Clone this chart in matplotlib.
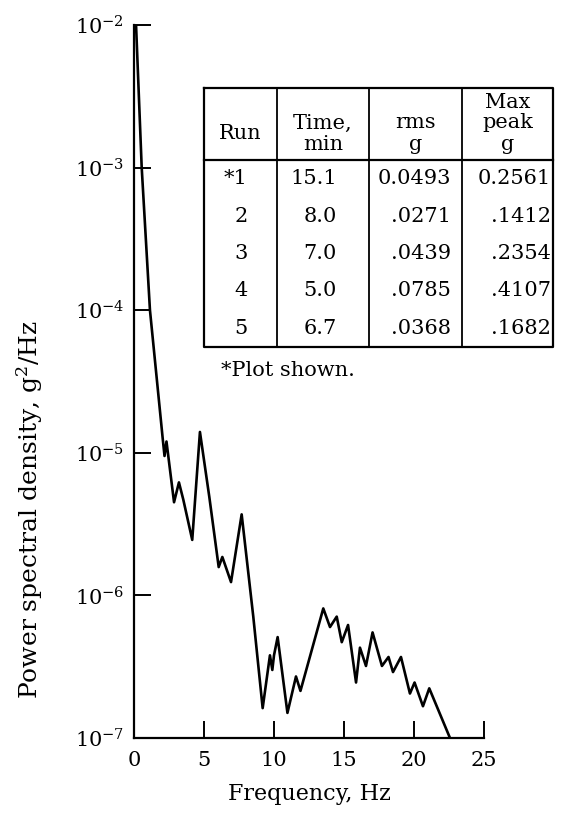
import matplotlib
matplotlib.use("Agg")
import matplotlib.pyplot as plt
from matplotlib.ticker import FixedLocator, NullLocator

# Power spectral density trace, run 1
freq_hz = [0.15, 0.55, 1.14, 2.05, 2.18, 2.32, 2.86, 3.21, 3.52, 4.16, 4.71,
           5.38, 6.05, 6.31, 6.93, 7.69, 8.52, 9.19, 9.71, 9.88, 10.0, 10.26,
           10.96, 11.57, 11.89, 13.52, 14.0, 14.48, 14.84, 15.29, 15.86, 16.14,
           16.57, 17.04, 17.71, 18.18, 18.5, 19.07, 19.71, 20.04, 20.64, 21.09,
           22.57]
psd_g2_hz = [9.8e-3, 1.0e-3, 1.0e-4, 1.26e-5, 9.5e-6, 1.2e-5, 4.5e-6, 6.2e-6,
             4.7e-6, 2.45e-6, 1.4e-5, 4.9e-6, 1.58e-6, 1.86e-6, 1.24e-6, 3.7e-6,
             7.1e-7, 1.62e-7, 3.8e-7, 3.0e-7, 3.8e-7, 5.1e-7, 1.5e-7, 2.7e-7,
             2.14e-7, 8.1e-7, 6.0e-7, 7.1e-7, 4.7e-7, 6.2e-7, 2.45e-7, 4.3e-7,
             3.2e-7, 5.5e-7, 3.2e-7, 3.7e-7, 2.9e-7, 3.7e-7, 2.05e-7, 2.45e-7,
             1.67e-7, 2.23e-7, 1.0e-7]

# Run summary table
headers = ["Run", "Time,\nmin", "rms\ng", "Max\npeak\ng"]
runs = ["*1", "2", "3", "4", "5"]
time_min = ["15.1", "8.0", "7.0", "5.0", "6.7"]
rms_g = ["0.0493", ".0271", ".0439", ".0785", ".0368"]
max_peak_g = ["0.2561", ".1412", ".2354", ".4107", ".1682"]
footnote = "*Plot shown."

x_ticks = [0, 5, 10, 15, 20, 25]
y_ticks = [1e-7, 1e-6, 1e-5, 1e-4, 1e-3, 1e-2]

plt.rcParams["font.family"] = ["DejaVu Serif"]
plt.rcParams["mathtext.fontset"] = "dejavuserif"

W, H = 561, 813
fig = plt.figure(figsize=(W / 100, H / 100), dpi=100)

# main axes, pixel box converted to figure fractions
ax_l, ax_r, ax_t, ax_b = 134, 484, 25, 738
ax = fig.add_axes([ax_l / W, 1 - ax_b / H, (ax_r - ax_l) / W, (ax_b - ax_t) / H])

ax.semilogy(freq_hz, psd_g2_hz, color="black", linewidth=1.9)
ax.set_xlim(0, 25)
ax.set_ylim(1e-7, 1e-2)
ax.xaxis.set_major_locator(FixedLocator(x_ticks))
ax.yaxis.set_major_locator(FixedLocator(y_ticks))
ax.yaxis.set_minor_locator(NullLocator())

for side in ["top", "right"]:
    ax.spines[side].set_visible(False)
for side in ["left", "bottom"]:
    ax.spines[side].set_linewidth(1.6)

ax.tick_params(axis="both", direction="in", length=12, width=1.4,
               labelsize=15, colors="black")
ax.tick_params(axis="x", pad=9)
ax.tick_params(axis="y", pad=7)

ax.set_xlabel("Frequency, Hz", fontsize=16)
ax.xaxis.label.set_va("center")
ax.xaxis.set_label_coords(0.5, -(794 - ax_b) / (ax_b - ax_t))
ax.set_ylabel("Power spectral density, g$^2$/Hz", fontsize=18)
ax.yaxis.label.set_va("center")
ax.yaxis.set_label_coords(-(ax_l - 30) / (ax_r - ax_l), (ax_b - 510) / (ax_b - ax_t))

# table drawn in its own pixel-unit axes
t_l, t_r, t_t, t_b = 204, 553, 88, 347
tax = fig.add_axes([t_l / W, 1 - t_b / H, (t_r - t_l) / W, (t_b - t_t) / H])
tw, th = t_r - t_l, t_b - t_t
tax.set_xlim(0, tw)
tax.set_ylim(th, 0)
tax.axis("off")

col_edges = [0, 73, 165, 258, tw]
header_h = 72
row_h = (th - header_h) / len(runs)
lw = 1.6

tax.plot([0, tw, tw, 0, 0], [0, 0, th, th, 0], color="black", lw=lw, clip_on=False)
tax.plot([0, tw], [header_h, header_h], color="black", lw=lw, clip_on=False)
for xe in col_edges[1:-1]:
    tax.plot([xe, xe], [0, th], color="black", lw=1.3, clip_on=False)

fs = 15
line_gap = 21
last_line_y = 56
for i, head in enumerate(headers):
    cx = (col_edges[i] + col_edges[i + 1]) / 2
    lines = head.split("\n")
    if len(lines) == 1:
        tax.text(cx, last_line_y - line_gap / 2, lines[0], ha="center",
                 va="center", fontsize=fs)
    else:
        for j, txt in enumerate(lines):
            y = last_line_y - (len(lines) - 1 - j) * line_gap
            tax.text(cx, y, txt, ha="center", va="center", fontsize=fs)

# right-aligned anchor of each body column
col_anchor = [44, 133, 247, 347]
columns = [runs, time_min, rms_g, max_peak_g]
for r in range(len(runs)):
    y = header_h + (r + 0.5) * row_h
    for c, values in enumerate(columns):
        tax.text(col_anchor[c], y, values[r], ha="right", va="center", fontsize=fs)

tax.text(17, th + 23, footnote, ha="left", va="center", fontsize=fs,
         clip_on=False)

fig.savefig("out.png", dpi=100)
